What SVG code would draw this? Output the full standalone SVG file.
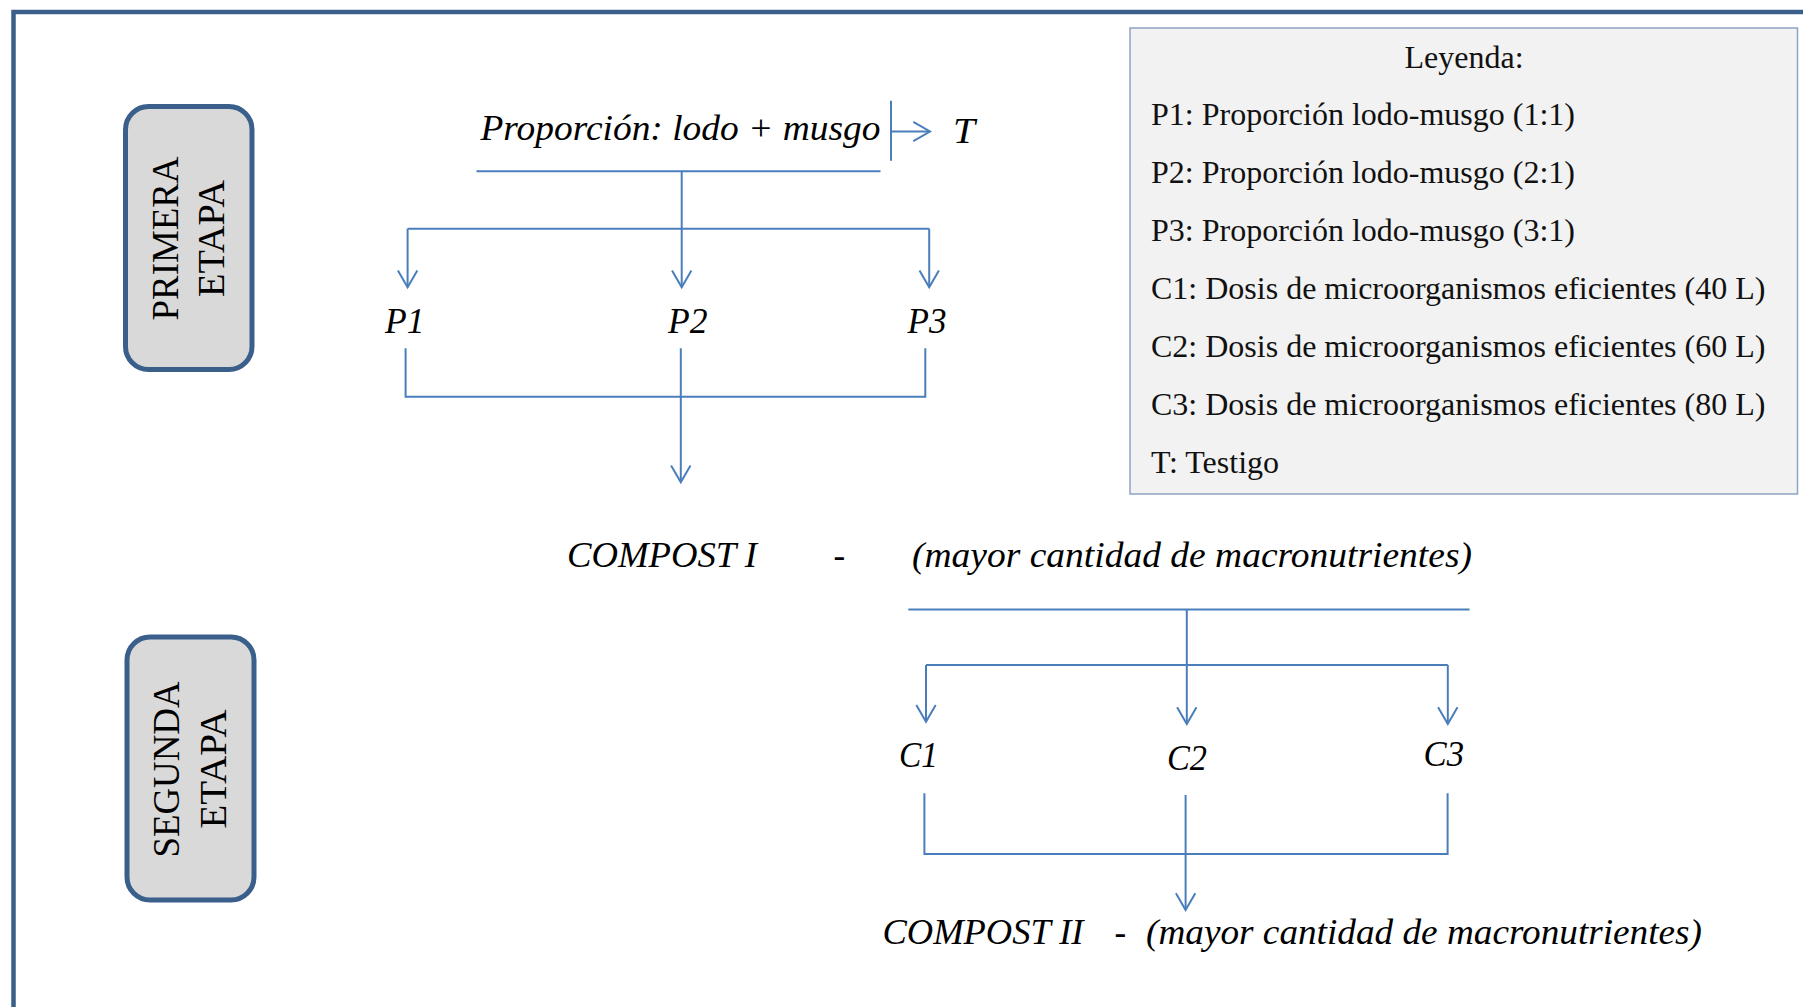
<svg xmlns="http://www.w3.org/2000/svg" width="1803" height="1007" viewBox="0 0 1803 1007">
  <style>
    .frame { fill: none; stroke: #3A5F8B; stroke-width: 4.5; }
    .stage { fill: #D9D9D9; stroke: #3A5F8B; stroke-width: 5; }
    .stage-t { font-family: "Liberation Serif", "Times New Roman", serif; font-size: 38px; fill: #000; text-anchor: middle; }
    .lbl { font-family: "Liberation Serif", "Times New Roman", serif; font-style: italic; font-size: 35px; fill: #000; }
    .leg-box { fill: #F2F2F2; stroke: #8DA4C4; stroke-width: 1.5; }
    .leg { font-family: "Liberation Serif", "Times New Roman", serif; font-size: 32px; fill: #111; }
    .ln { fill: none; stroke: #4A7EBB; stroke-width: 2; }
    .arr { fill: none; stroke: #4A7EBB; stroke-width: 2; marker-end: url(#open); }
  </style>
  <defs>
    <marker id="open" markerUnits="userSpaceOnUse" markerWidth="22" markerHeight="24" viewBox="0 0 22 24" refX="19" refY="12" orient="auto" overflow="visible">
      <path d="M2.3,2.3 L19,12 L2.3,21.7" fill="none" stroke="#4A7EBB" stroke-width="2"/>
    </marker>
  </defs>

  <rect width="1803" height="1007" fill="#FFFFFF"/>
  <path class="frame" d="M13.5,1010 V12 H1810"/>

  <g id="primera-etapa">
    <rect class="stage" x="125.5" y="106.5" width="126.5" height="263" rx="23" ry="23"/>
    <text class="stage-t" transform="translate(177.5,238.5) rotate(-90)" textLength="164" lengthAdjust="spacingAndGlyphs">PRIMERA</text>
    <text class="stage-t" transform="translate(224,238.5) rotate(-90)" textLength="117" lengthAdjust="spacingAndGlyphs">ETAPA</text>
  </g>

  <g id="segunda-etapa">
    <rect class="stage" x="127" y="637" width="127" height="263" rx="23" ry="23"/>
    <text class="stage-t" transform="translate(179,769.5) rotate(-90)" textLength="176" lengthAdjust="spacingAndGlyphs">SEGUNDA</text>
    <text class="stage-t" transform="translate(225.5,769) rotate(-90)" textLength="119" lengthAdjust="spacingAndGlyphs">ETAPA</text>
  </g>

  <g id="leyenda">
    <rect class="leg-box" x="1130" y="28" width="667.5" height="466"/>
    <text class="leg" x="1464" y="67.5" text-anchor="middle">Leyenda:</text>
    <text class="leg" x="1151" y="125">P1: Proporción lodo-musgo (1:1)</text>
    <text class="leg" x="1151" y="183">P2: Proporción lodo-musgo (2:1)</text>
    <text class="leg" x="1151" y="241">P3: Proporción lodo-musgo (3:1)</text>
    <text class="leg" x="1151" y="299">C1: Dosis de microorganismos eficientes (40 L)</text>
    <text class="leg" x="1151" y="357">C2: Dosis de microorganismos eficientes (60 L)</text>
    <text class="leg" x="1151" y="415">C3: Dosis de microorganismos eficientes (80 L)</text>
    <text class="leg" x="1151" y="473">T: Testigo</text>
  </g>

  <g id="proporcion">
    <text class="lbl" x="480.5" y="139.5" textLength="400" lengthAdjust="spacingAndGlyphs">Proporción: lodo + musgo</text>
  </g>
  <g id="testigo">
    <text class="lbl" x="953" y="143" textLength="22" lengthAdjust="spacingAndGlyphs">T</text>
  </g>
  <g id="p1"><text class="lbl" x="385" y="332.5" textLength="39.5" lengthAdjust="spacingAndGlyphs">P1</text></g>
  <g id="p2"><text class="lbl" x="668" y="332.5" textLength="39.5" lengthAdjust="spacingAndGlyphs">P2</text></g>
  <g id="p3"><text class="lbl" x="907.5" y="332.5" textLength="39" lengthAdjust="spacingAndGlyphs">P3</text></g>

  <g id="compost-1">
    <text class="lbl" x="567" y="567" textLength="190" lengthAdjust="spacingAndGlyphs">COMPOST I</text>
    <text class="lbl" x="833.5" y="567">-</text>
    <text class="lbl" x="912" y="567" textLength="560" lengthAdjust="spacingAndGlyphs">(mayor cantidad de macronutrientes)</text>
  </g>

  <g id="c1"><text class="lbl" x="899" y="767" textLength="39" lengthAdjust="spacingAndGlyphs">C1</text></g>
  <g id="c2"><text class="lbl" x="1167" y="769.5" textLength="40" lengthAdjust="spacingAndGlyphs">C2</text></g>
  <g id="c3"><text class="lbl" x="1423.5" y="766" textLength="40.5" lengthAdjust="spacingAndGlyphs">C3</text></g>

  <g id="compost-2">
    <text class="lbl" x="882.5" y="944" textLength="201" lengthAdjust="spacingAndGlyphs">COMPOST II</text>
    <text class="lbl" x="1114.5" y="944">-</text>
    <text class="lbl" x="1146" y="944" textLength="556" lengthAdjust="spacingAndGlyphs">(mayor cantidad de macronutrientes)</text>
  </g>

  <g id="connectors">
    <path class="ln" d="M891,100.7 V160.7"/>
    <path class="arr" d="M891,131.5 H930"/>
    <path class="ln" d="M476.5,171.3 H880.5"/>
    <path class="ln" d="M681.7,171.3 V228.7"/>
    <path class="ln" d="M407.6,228.7 H929.2"/>
    <path class="arr" d="M407.6,228.7 V287.3"/>
    <path class="arr" d="M681.7,228.7 V287.3"/>
    <path class="arr" d="M929.2,228.7 V287.3"/>
    <path class="ln" d="M405.6,348.3 V396.7 H925.3 V348.3"/>
    <path class="arr" d="M680.8,348.3 V482.3"/>

    <path class="ln" d="M908.3,609.5 H1469.5"/>
    <path class="ln" d="M1186.8,609.5 V665"/>
    <path class="ln" d="M926,665 H1447.8"/>
    <path class="arr" d="M926,665 V721.7"/>
    <path class="arr" d="M1186.8,665 V724"/>
    <path class="arr" d="M1447.8,665 V724"/>
    <path class="ln" d="M924.4,793.3 V854 H1447.6 V793.3"/>
    <path class="arr" d="M1185.6,795 V910"/>
  </g>
</svg>
